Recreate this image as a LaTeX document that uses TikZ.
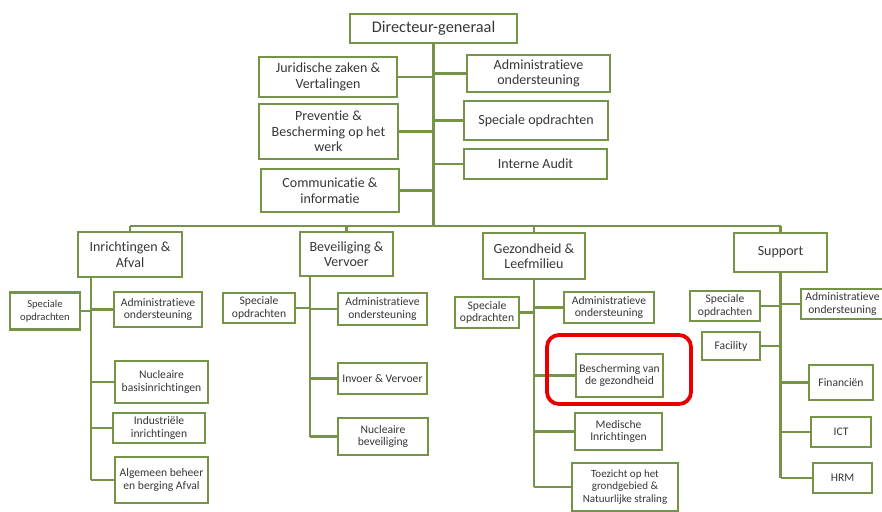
\documentclass[tikz,border=0pt]{standalone}
\usepackage{fontspec}
\setmainfont{Carlito}[Ligatures=NoCommon]
\definecolor{olive}{RGB}{118,148,72}
\definecolor{ink}{RGB}{55,55,55}
\definecolor{mark}{RGB}{232,0,0}
\begin{document}
\begin{tikzpicture}[x=1pt,y=-1pt,
  box/.style={draw=olive, line width=2.6pt, fill=white, inner sep=0pt, align=center, text=ink},
  topbox/.style={box, font=\fontsize{14}{15.5}\selectfont},
  headbox/.style={box, font=\fontsize{14}{15.5}\selectfont},
  subbox/.style={box, font=\fontsize{11.6}{12.8}\selectfont},
  link/.style={draw=olive, line width=2.3pt},
  highlight/.style={draw=mark, line width=3.8pt, rounded corners=12pt}]
\useasboundingbox (0,0) rectangle (882,511);

% director and staff services
\node[box, font=\fontsize{16.3}{19}\selectfont, minimum width=167, minimum height=29] (dg) at (433.5,28.5) {Directeur-generaal};
\node[topbox, minimum width=138, minimum height=40] (jur) at (328,77) {Juridische zaken \&\\Vertalingen};
\node[topbox, minimum width=139, minimum height=55] (prev) at (328.5,131.5) {Preventie \&\\Bescherming op het\\werk};
\node[topbox, minimum width=138, minimum height=43] (comm) at (330,190.5) {Communicatie \&\\informatie};
\node[topbox, minimum width=143, minimum height=37] (adm0) at (538.5,73.5) {Administratieve\\ondersteuning};
\node[topbox, minimum width=144, minimum height=39] (spec0) at (536,120.5) {Speciale opdrachten};
\node[topbox, minimum width=143, minimum height=30] (aud) at (535.5,164) {Interne Audit};

% departments
\node[headbox, minimum width=104, minimum height=45] (ia) at (130,254.5) {Inrichtingen \&\\Afval};
\node[headbox, minimum width=93, minimum height=44] (bv) at (346.5,254) {Beveiliging \&\\Vervoer};
\node[headbox, minimum width=102, minimum height=46] (gl) at (534,256) {Gezondheid \&\\Leefmilieu};
\node[headbox, minimum width=93, minimum height=39] (sup) at (780.5,252.5) {Support};

% Inrichtingen & Afval
\node[subbox, font=\fontsize{10.6}{12.6}\selectfont, minimum width=70, minimum height=37] (spa) at (45,311) {Speciale\\opdrachten};
\node[subbox, minimum width=88, minimum height=35] (ada) at (158,309.5) {Administratieve\\ondersteuning};
\node[subbox, minimum width=93, minimum height=42] (nba) at (161.5,382) {Nucleaire\\basisinrichtingen};
\node[subbox, minimum width=92, minimum height=30] (ind) at (159,428) {Industriële\\inrichtingen};
\node[subbox, minimum width=93, minimum height=46] (alg) at (161.5,480) {Algemeen beheer\\en berging Afval};

% Beveiliging & Vervoer
\node[subbox, minimum width=72, minimum height=30] (spb) at (259,308) {Speciale\\opdrachten};
\node[subbox, minimum width=89, minimum height=32] (adb) at (382.5,309) {Administratieve\\ondersteuning};
\node[subbox, minimum width=89, minimum height=31] (inv) at (382.5,378.5) {Invoer \& Vervoer};
\node[subbox, minimum width=90, minimum height=37] (nbb) at (383,436.5) {Nucleaire\\beveiliging};

% Gezondheid & Leefmilieu
\node[subbox, minimum width=64, minimum height=31] (spg) at (487,312.5) {Speciale\\opdrachten};
\node[subbox, minimum width=90, minimum height=31] (adg) at (609,307.5) {Administratieve\\ondersteuning};
\node[subbox, minimum width=87, minimum height=43] (bvg) at (619.5,375.5) {Bescherming van\\de gezondheid};
\node[subbox, minimum width=87, minimum height=37] (med) at (618.5,431.5) {Medische\\Inrichtingen};
\node[subbox, font=\fontsize{11}{12.5}\selectfont, minimum width=106, minimum height=48] (toe) at (625,487) {Toezicht op het\\grondgebied \&\\Natuurlijke straling};

% Support
\node[subbox, minimum width=70, minimum height=30] (sps) at (725,306) {Speciale\\opdrachten};
\node[subbox, minimum width=83, minimum height=30] (ads) at (842.5,304) {Administratieve\\ondersteuning};
\node[subbox, minimum width=58, minimum height=28] (fac) at (731,346) {Facility};
\node[subbox, minimum width=64, minimum height=35] (fin) at (841,382.5) {Financiën};
\node[subbox, minimum width=60, minimum height=30] (ict) at (841,432) {ICT};
\node[subbox, minimum width=59, minimum height=30] (hrm) at (842.5,478) {HRM};

% bus and the spine of each department
\coordinate (bus) at (433.5,226);
\coordinate (s1) at (91,277);
\coordinate (s2) at (310,276);
\coordinate (s3) at (534,279);
\coordinate (s4) at (780.5,272);

\draw[link] (dg.south) -- (bus);
\draw[link] (ia.north |- bus) -- (sup.north |- bus);
\foreach \h in {ia,bv,gl,sup} \draw[link] (\h.north |- bus) -- (\h.north);
\foreach \n in {jur,prev,comm} \draw[link] (\n.east) -- (\n.east -| dg.south);
\foreach \n in {adm0,spec0,aud} \draw[link] (\n.west) -- (\n.west -| dg.south);

\draw[link] (s1) -- (s1 |- alg.west);
\draw[link] (spa.east) -- (spa.east -| s1);
\foreach \n in {ada,nba,ind,alg} \draw[link] (\n.west) -- (\n.west -| s1);

\draw[link] (s2) -- (s2 |- nbb.west);
\draw[link] (spb.east) -- (spb.east -| s2);
\foreach \n in {adb,inv,nbb} \draw[link] (\n.west) -- (\n.west -| s2);

\draw[link] (s3) -- (s3 |- toe.west);
\draw[link] (spg.east) -- (spg.east -| s3);
\foreach \n in {adg,bvg,med,toe} \draw[link] (\n.west) -- (\n.west -| s3);

\draw[link] (s4) -- (s4 |- hrm.west);
\foreach \n in {sps,fac} \draw[link] (\n.east) -- (\n.east -| s4);
\foreach \n in {ads,fin,ict,hrm} \draw[link] (\n.west) -- (\n.west -| s4);

% highlight around the health protection unit
\draw[highlight] (547,335) rectangle (691,404);
\end{tikzpicture}
\end{document}
